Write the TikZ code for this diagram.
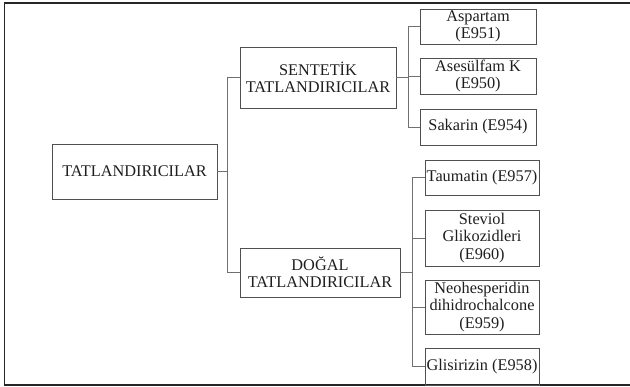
\documentclass[tikz,border=0pt]{standalone}
\usepackage{fontspec}
\setmainfont{Liberation Serif}
\definecolor{boxline}{HTML}{505050}
\definecolor{conline}{HTML}{707070}
\definecolor{txt}{HTML}{1E1E1E}
\begin{document}
\begin{tikzpicture}[x=1pt,y=-1pt,
  box/.style={draw=boxline,line width=0.9pt,inner sep=0pt,align=center,text=txt,
    font=\fontsize{16.3}{17.2}\selectfont},
  con/.style={draw=conline,line width=0.9pt}]
\useasboundingbox (0,0) rectangle (630,387);
% frame
\draw[line width=1.3pt,black!85] (630,3) -- (4.5,3) -- (4.5,385) -- (630,385);
% nodes
\node[box,minimum width=165pt,minimum height=55pt] (root) at (134.5,171.5) {TATLANDIRICILAR};
\node[box,minimum width=156pt,minimum height=61pt] (sent) at (318,77.5) {SENTETİK\\TATLANDIRICILAR};
\node[box,minimum width=160pt,minimum height=49pt] (dogal) at (320,272.5) {DOĞAL\\TATLANDIRICILAR};
\node[box,minimum width=116pt,minimum height=35pt] (asp) at (478,26.5) {Aspartam\\(E951)};
\node[box,minimum width=116pt,minimum height=36pt] (ases) at (478,76) {Asesülfam K\\(E950)};
\node[box,minimum width=116pt,minimum height=36pt] (sak) at (478,127) {Sakarin (E954)};
\node[box,minimum width=114pt,minimum height=35pt] (taum) at (482,177.5) {Taumatin (E957)};
\node[box,minimum width=114pt,minimum height=56pt] (stev) at (482,238) {Steviol\\Glikozidleri\\(E960)};
\node[box,minimum width=114pt,minimum height=54pt] (neo) at (482,307) {Neohesperidin\\dihidrochalcone\\(E959)};
\node[box,minimum width=114pt,minimum height=37pt] (glis) at (482,366.5) {Glisirizin (E958)};
% connectors
\draw[con] (root.east) -- ++(10,0) |- (sent.west);
\draw[con] (root.east) -- ++(10,0) |- (dogal.west);
\draw[con] (sent.east) -- ++(12,0) |- (asp.west);
\draw[con] (sent.east) -- ++(12,0) |- (ases.west);
\draw[con] (sent.east) -- ++(12,0) |- (sak.west);
\draw[con] (dogal.east) -- ++(12,0) |- (taum.west);
\draw[con] (dogal.east) -- ++(12,0) |- (stev.west);
\draw[con] (dogal.east) -- ++(12,0) |- (neo.west);
\draw[con] (dogal.east) -- ++(12,0) |- (glis.west);
\end{tikzpicture}
\end{document}
